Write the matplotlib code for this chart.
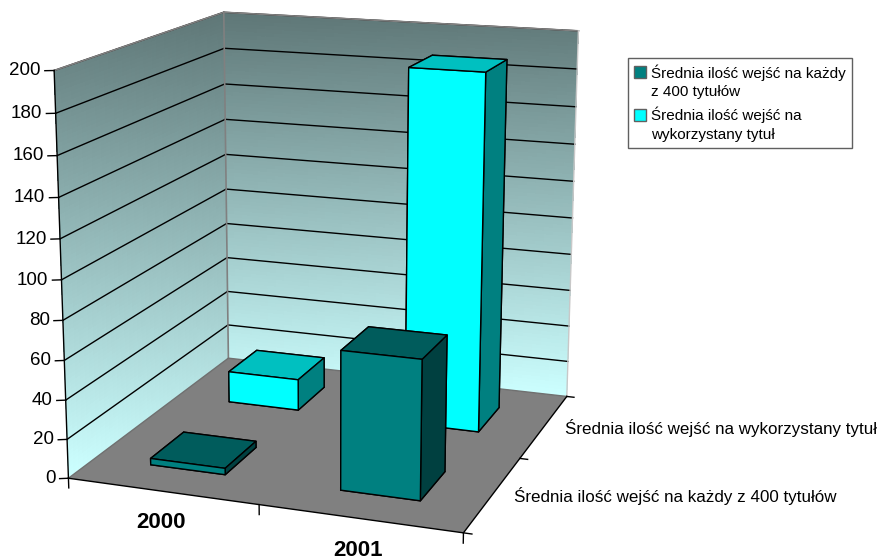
import numpy as np
import matplotlib
matplotlib.use('Agg')
import matplotlib.pyplot as plt
from matplotlib.colors import LinearSegmentedColormap
from matplotlib.legend_handler import HandlerPatch
from matplotlib.patches import Patch, Rectangle
from mpl_toolkits.mplot3d import proj3d
from mpl_toolkits.mplot3d.art3d import Poly3DCollection

plt.rcParams['font.family'] = ['Liberation Sans', 'DejaVu Sans']

categories = ['2000', '2001']
series = ['Średnia ilość wejść na każdy z 400 tytułów', 'Średnia ilość wejść na wykorzystany tytuł']
legend_labels = ['Średnia ilość wejść na każdy\nz 400 tytułów', 'Średnia ilość wejść na\nwykorzystany tytuł']
each_title = [3.3, 70]
used_title = [17, 188]
z_ticks = list(range(0, 201, 20))

W, H = 882, 560
fig = plt.figure(figsize=(W/100, H/100), dpi=100)
ax = fig.add_axes([0, 0, 1, 1], projection='3d', computed_zorder=False)
ax.set_axis_off()
ax.set_xlim(0, 2)
ax.set_ylim(0, 2)
ax.set_zlim(0, 200)
# camera fitted to the corners of the chart box, axes made bigger than the figure so nothing clips
scale = 3
ax.view_init(14.7363, -70.21, -0.0246)
ax.set_box_aspect((0.9961, 1.0069, 1), zoom=np.exp(0.5884)/scale)
ax.set_proj_type('persp', focal_length=1/scale)
size = 372.3*scale
mid_x, mid_y = 316.8, 297.8
ax.set_position([(mid_x - size/2)/W, (mid_y - size/2)/H, size/W, size/H])
M = ax.get_proj()

def screen_y(X, Y, Z):
    sx, sy, _ = proj3d.proj_transform(X.ravel(), Y.ravel(), Z.ravel(), M)
    return ax.transData.transform(np.c_[sx, sy])[:, 1].reshape(X.shape)

# the fade on each wall runs straight down the screen, not along the value axis
wall_cmap = LinearSegmentedColormap.from_list('wall', ['#CCFFFF', '#5E7676'])

def wall(X, Y, Z):
    sy = screen_y(X, Y, Z)
    cols = wall_cmap((sy - sy.min())/(sy.max() - sy.min()))
    ax.plot_surface(X, Y, Z, facecolors=cols, rstride=1, cstride=1, shade=False, linewidth=0, antialiased=False, zorder=1)

Sw, Zw = np.meshgrid(np.linspace(0, 2, 41), np.linspace(0, 200, 101))
wall(np.zeros_like(Sw), Sw, Zw)
wall(Sw, np.full_like(Sw, 2), Zw)
ax.add_collection3d(Poly3DCollection([[(0, 0, 0), (2, 0, 0), (2, 2, 0), (0, 2, 0)]], facecolor='#808080', edgecolor='none', zorder=2))

for z in z_ticks[1:]:
    ax.plot([0, 0], [0, 2], [z, z], color='k', lw=1, zorder=3)
    ax.plot([0, 2], [2, 2], [z, z], color='k', lw=1, zorder=3)
ax.plot([0, 0], [2, 2], [0, 200], color='#808080', lw=1.2, zorder=3)
ax.plot([0, 0, 2], [0, 2, 2], [200, 200, 200], color='#808080', lw=1.2, zorder=3)
ax.plot([2, 2], [2, 2], [0, 200], color='#C8C8C8', lw=1, zorder=3)
ax.plot([0, 0, 2], [0, 2, 2], [0, 0, 0], color='#707070', lw=1, zorder=3)

# face order of bar3d: -z, +z, -y, +y, -x, +x
teal_faces = ['#004040', '#005C5C', '#008080', '#008080', '#008080', '#004040']
cyan_faces = ['#008080', '#00C0C0', '#00FFFF', '#00FFFF', '#00FFFF', '#008080']
order = 5
for j, (vals, faces) in reversed(list(enumerate([(each_title, teal_faces), (used_title, cyan_faces)]))):
    for i, v in enumerate(vals):
        ax.bar3d(i + .3, j + .3, 0, .4, .4, v, color=faces, shade=False, edgecolor='k', linewidth=1, zorder=order)
        order += 1

ax.plot([0, 2, 2], [0, 0, 2], [0, 0, 0], color='k', lw=1, zorder=4)
ax.plot([0, 0], [0, 0], [0, 200], color='k', lw=1, zorder=4)
for z in z_ticks:
    ax.plot([0, -.038], [0, -.019], [z, z], color='k', lw=1, zorder=4)
    tx, ty, _ = proj3d.proj_transform(-.055, -.0275, z, M)
    ax.text2D(tx, ty, str(z), transform=ax.transData, ha='right', va='center', fontsize=13.5)
for x in [0, 1, 2]:
    ax.plot([x, x], [0, 0], [0, -5], color='k', lw=1, zorder=4)
for y in [0, 1, 2]:
    ax.plot([2, 2.04], [y, y], [0, 0], color='k', lw=1, zorder=4)

fig.text(161/W, 1-523/H, categories[0], ha='center', va='center', fontsize=16, fontweight='bold')
fig.text(358/W, 1-551/H, categories[1], ha='center', va='center', fontsize=16, fontweight='bold')
fig.text(514/W, 1-496/H, series[0], ha='left', va='center', fontsize=12.25)
fig.text(565/W, 1-428/H, series[1], ha='left', va='center', fontsize=12.25)

def first_line_swatch(legend, orig_handle, xdescent, ydescent, width, height, fontsize):
    return Rectangle((-xdescent, -ydescent + 7), width, height)

handles = [Patch(facecolor='#008080', edgecolor='#606060'), Patch(facecolor='#00FFFF', edgecolor='#606060')]
leg = fig.legend(handles, legend_labels, loc='upper left', bbox_to_anchor=(628/W, 1-58/H), fontsize=11, fancybox=False,
                 framealpha=1, edgecolor='#606060', handlelength=.8, handleheight=.8, handletextpad=.3, borderpad=.4,
                 labelspacing=.5, borderaxespad=0, handler_map={Patch: HandlerPatch(patch_func=first_line_swatch)})
for t in leg.get_texts():
    t.set_linespacing(1.42)

fig.savefig('out.png', dpi=100)
